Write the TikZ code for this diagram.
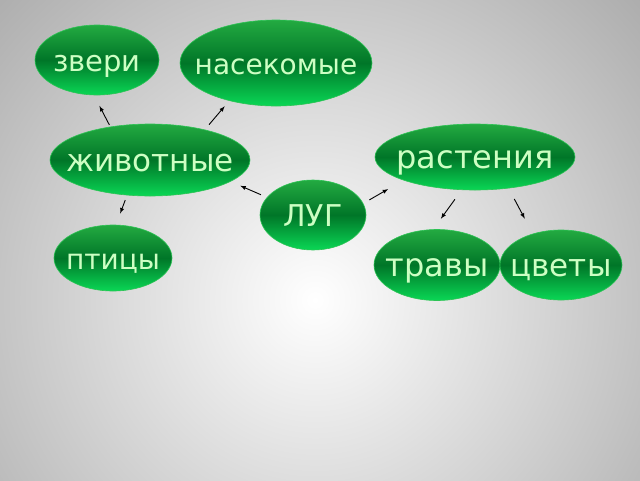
\documentclass[tikz,border=0pt]{standalone}
\usepackage{fontspec}
\setmainfont{DejaVu Sans}
\usetikzlibrary{positioning,shapes.geometric}
\definecolor{bubbletop}{RGB}{35,170,65}
\definecolor{bubblemid}{RGB}{0,118,40}
\definecolor{bubblebot}{RGB}{10,215,85}
\definecolor{bubbleline}{RGB}{45,195,85}
\definecolor{bubbletext}{RGB}{205,255,195}
\definecolor{bgedge}{RGB}{122,122,122}
\tikzset{
  main/.style 2 args={ellipse, draw=bubbleline, line width=0.6pt,
    top color=bubbletop, bottom color=bubblebot, middle color=bubblemid,
    text=bubbletext, font=\fontsize{31}{36}\selectfont,
    text height=26pt, text depth=4pt,
    inner xsep=-30pt, inner ysep=0pt, minimum width=#1, minimum height=#2},
  fs/.style={font=\fontsize{#1}{#1}\selectfont},
  arr/.style 2 args={->, >=latex, line width=0.9pt, shorten <=#1, shorten >=#2}
}
\begin{document}
\begin{tikzpicture}[x=1pt, y=-1pt, on grid]
  % background
  \begin{scope}
    \clip (0,0) rectangle (640,480);
    \shade[inner color=white, outer color=bgedge] (315,300) circle (720pt);
  \end{scope}
  \useasboundingbox (0,0) rectangle (640,480);

  \node[main={106pt}{70pt}, fs=30] (lug) at (313,215) {ЛУГ};
  \node[main={200pt}{72pt}] (zhivotnye) [above left=55pt and 163pt of lug] {животные};
  \node[main={124pt}{70pt}, fs=29] (zveri) [above left=100pt and 53pt of zhivotnye] {звери};
  \node[main={192pt}{86pt}, fs=28] (nasekomye) [above right=97pt and 126pt of zhivotnye] {насекомые};
  \node[main={118pt}{66pt}, fs=28] (ptitsy) [below left=98pt and 37pt of zhivotnye] {птицы};
  \node[main={200pt}{66pt}, fs=32] (rasteniya) [above right=58pt and 162pt of lug] {растения};
  \node[main={126pt}{71pt}, fs=32] (travy) [below left=108pt and 38pt of rasteniya] {травы};
  \node[main={122pt}{70pt}] (tsvety) [right=124pt of travy] {цветы};

  \draw[arr={2pt}{12pt}] (zhivotnye.140) -- (zveri.265);
  \draw[arr={6.5pt}{7pt}] (zhivotnye.29) -- (nasekomye.219);
  \draw[arr={5pt}{12pt}] (zhivotnye.237) -- (ptitsy.85);
  \draw[arr={6.5pt}{10.5pt}] (lug.159) -- (zhivotnye.345);
  \draw[arr={7pt}{17.5pt}] (lug.13) -- (rasteniya.198);
  \draw[arr={11.5pt}{13pt}] (rasteniya.248) -- (travy.96);
  \draw[arr={12pt}{17pt}] (rasteniya.317) -- (tsvety.132);
\end{tikzpicture}
\end{document}
